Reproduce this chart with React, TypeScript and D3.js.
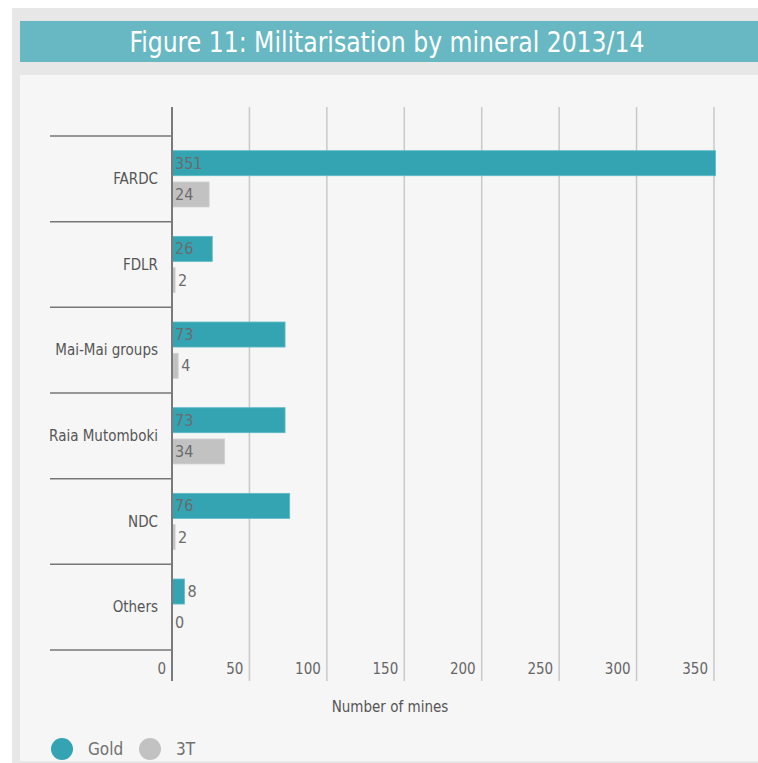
import { scaleBand, scaleLinear } from "d3";

const categories = ["FARDC", "FDLR", "Mai-Mai groups", "Raia Mutomboki", "NDC", "Others"];
const goldValues = [351, 26, 73, 73, 76, 8];
const threeTValues = [24, 2, 4, 34, 2, 0];
const xTicks = [0, 50, 100, 150, 200, 250, 300, 350];
const seriesNames = ["Gold", "3T"];
const seriesColors = ["#34a4b3", "#c2c2c2"];

const W = 758;
const H = 763;
const FONT = "'DejaVu Sans Condensed', 'Liberation Sans Narrow', sans-serif";

export default function App() {
  const x = scaleLinear().domain([0, 350]).range([172, 714]);
  const y = scaleBand<string>().domain(categories).range([136, 650]);
  const inner = scaleBand<string>()
    .domain(seriesNames)
    .range([0, y.bandwidth()])
    .paddingInner(0.2)
    .paddingOuter(0.47);

  const gridTop = 107;
  const gridBottom = 681;
  const series = [goldValues, threeTValues];

  return (
    <div style={{ position: "absolute", left: 0, top: 0 }}>
      <svg width={W} height={H} style={{ display: "block", fontFamily: FONT }}>
        <rect x={0} y={0} width={W} height={H} fill="#ffffff" />
        <rect x={12} y={8} width={W - 12} height={H - 8} fill="#e7e7e7" />
        <rect x={20} y={75} width={W - 20} height={686} fill="#f6f6f6" />
        <rect x={20} y={21} width={W - 20} height={41} fill="#67b8c2" />
        <text
          x={387}
          y={52}
          textAnchor="middle"
          fill="#ffffff"
          fontSize={29}
          textLength={515}
          lengthAdjust="spacingAndGlyphs"
        >
          Figure 11: Militarisation by mineral 2013/14
        </text>

        {xTicks.slice(1).map((t) => (
          <line key={t} x1={x(t)} x2={x(t)} y1={gridTop} y2={gridBottom} stroke="#c9c9c9" strokeWidth={1.5} />
        ))}

        {categories.map((c) => (
          <line key={c} x1={50} x2={172} y1={y(c)} y2={y(c)} stroke="#777777" strokeWidth={1.5} />
        ))}
        <line x1={50} x2={172} y1={650} y2={650} stroke="#777777" strokeWidth={1.5} />

        {categories.map((c, i) => (
          <g key={c}>
            <text
              x={158}
              y={(y(c) ?? 0) + y.bandwidth() / 2}
              dy="0.35em"
              textAnchor="end"
              fill="#555555"
              fontSize={15}
            >
              {c}
            </text>
            {series.map((vals, s) => {
              const v = vals[i];
              const by = (y(c) ?? 0) + (inner(seriesNames[s]) ?? 0);
              const bw = x(v) - x(0);
              const label = String(v);
              const inside = bw > label.length * 8 + 6;
              return (
                <g key={s}>
                  {v > 0 && (
                    <rect
                      x={x(0)}
                      y={by}
                      width={bw}
                      height={inner.bandwidth()}
                      fill={seriesColors[s]}
                      stroke={s === 0 ? "#5cbac6" : "#d2d2d2"}
                      strokeWidth={0.8}
                    />
                  )}
                  <text
                    x={inside ? x(0) + 3 : x(0) + bw + 3}
                    y={by + inner.bandwidth() / 2}
                    dy="0.35em"
                    fill="#6b6b6b"
                    fontSize={16}
                  >
                    {label}
                  </text>
                </g>
              );
            })}
          </g>
        ))}

        <line x1={172} x2={172} y1={gridTop} y2={gridBottom} stroke="#7a7a7a" strokeWidth={2} />

        {xTicks.map((t) => (
          <text key={t} x={x(t) - 6} y={669} dy="0.35em" textAnchor="end" fill="#666666" fontSize={15}>
            {t}
          </text>
        ))}
        <text x={390} y={707} dy="0.35em" textAnchor="middle" fill="#555555" fontSize={15}>
          Number of mines
        </text>

        {seriesNames.map((n, s) => (
          <g key={n} transform={`translate(${62 + s * 88},749)`}>
            <circle r={11} fill={seriesColors[s]} />
            <text x={26} dy="0.35em" fill="#707070" fontSize={17}>
              {n}
            </text>
          </g>
        ))}
      </svg>
    </div>
  );
}
